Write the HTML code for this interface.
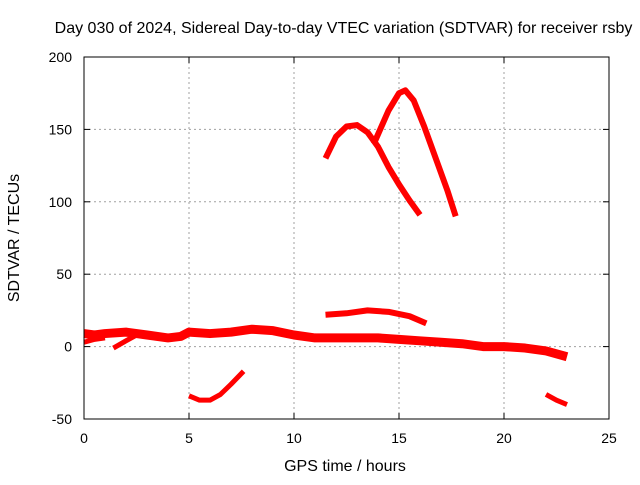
<!DOCTYPE html>
<html><head><meta charset="utf-8"><style>
body{margin:0;background:#fff;}
text{font-family:"Liberation Sans",sans-serif;font-size:14px;fill:#000;}
.big{font-size:16px;}
</style></head><body>
<svg id="c" width="640" height="480">
<text class="big" x="343.5" y="33" text-anchor="middle">Day 030 of 2024, Sidereal Day-to-day VTEC variation (SDTVAR) for receiver rsby</text>
<g id="grid"></g><g id="series"></g><g id="axes"></g>
<text class="big" x="345" y="471" text-anchor="middle">GPS time / hours</text>
<text class="big" transform="translate(19,238) rotate(-90)" text-anchor="middle">SDTVAR / TECUs</text>
</svg>
<script>
const xTicks=[0,5,10,15,20,25];
const yTicks=[-50,0,50,100,150,200];
const seriesMain=[[0,9],[0.5,8],[1,9],[2,10],[3,8],[4,6],[4.6,7],[5,10],[6,9],[7,10],[8,12],[9,11],[10,8],[11,6],[12,6],[13,6],[14,6],[15,5],[16,4],[17,3],[18,2],[19,0],[20,0],[21,-1],[22,-3],[23,-7]];
const seriesB=[[1.4,-1],[2,4],[2.5,8]];
const seriesC=[[0,3],[0.5,5],[1,6]];
const seriesD=[[5,-34],[5.5,-37],[6,-37],[6.5,-33],[7,-26],[7.6,-17]];
const seriesE=[[11.5,22],[12.5,23],[13.5,25],[14.5,24],[15.5,21],[16.3,16]];
const seriesF=[[11.5,130],[12,145],[12.5,152],[13,153],[13.5,148],[14,138],[14.5,124],[15,112],[15.5,101],[16,91]];
const seriesG=[[13.8,140],[14.5,163],[15,175],[15.3,177],[15.7,170],[16.2,152],[16.8,128],[17.3,108],[17.7,90]];
const seriesH=[[22,-33],[22.5,-37],[23,-40]];
const NS="http://www.w3.org/2000/svg";
const X=v=>84+v*21, Y=v=>346.6-v*1.448;
function mk(t,a,p){const e=document.createElementNS(NS,t);for(const k in a)e.setAttribute(k,a[k]);p.appendChild(e);return e;}
const g=document.getElementById('grid'),ax=document.getElementById('axes'),s=document.getElementById('series');
xTicks.forEach(v=>{
 if(v>0&&v<25){const l=mk('line',{x1:X(v),x2:X(v),y1:57,y2:419,stroke:'#a0a0a0','stroke-dasharray':'2,3'},g);
 }
 const t=mk('text',{x:X(v),y:443,'text-anchor':'middle'},ax);t.textContent=v;
 
 mk('line',{x1:X(v),x2:X(v),y1:419,y2:413,stroke:'#000'},ax);mk('line',{x1:X(v),x2:X(v),y1:57,y2:63,stroke:'#000'},ax);
});
yTicks.forEach(v=>{
 if(v>-50&&v<200){const l=mk('line',{x1:84,x2:609,y1:Y(v),y2:Y(v),stroke:'#a0a0a0','stroke-dasharray':'2,3'},g);
 }
 const t=mk('text',{x:72,y:Y(v)+5,'text-anchor':'end'},ax);t.textContent=v;
 
 mk('line',{x1:84,x2:90,y1:Y(v),y2:Y(v),stroke:'#000'},ax);mk('line',{x1:609,x2:603,y1:Y(v),y2:Y(v),stroke:'#000'},ax);
});
const fr=mk('rect',{x:84,y:57,width:525,height:362,fill:'none',stroke:'#000'},ax);

const all=[[seriesMain,9],[seriesB,5],[seriesC,5],[seriesD,5],[seriesE,6],[seriesF,6],[seriesG,6],[seriesH,5]];
all.forEach(([d,w])=>{
 const p=mk('polyline',{points:d.map(q=>X(q[0])+','+Y(q[1])).join(' '),fill:'none',stroke:'#ff0000','stroke-width':w,'stroke-linejoin':'round'},s);
 
});
</script>
</body></html>
